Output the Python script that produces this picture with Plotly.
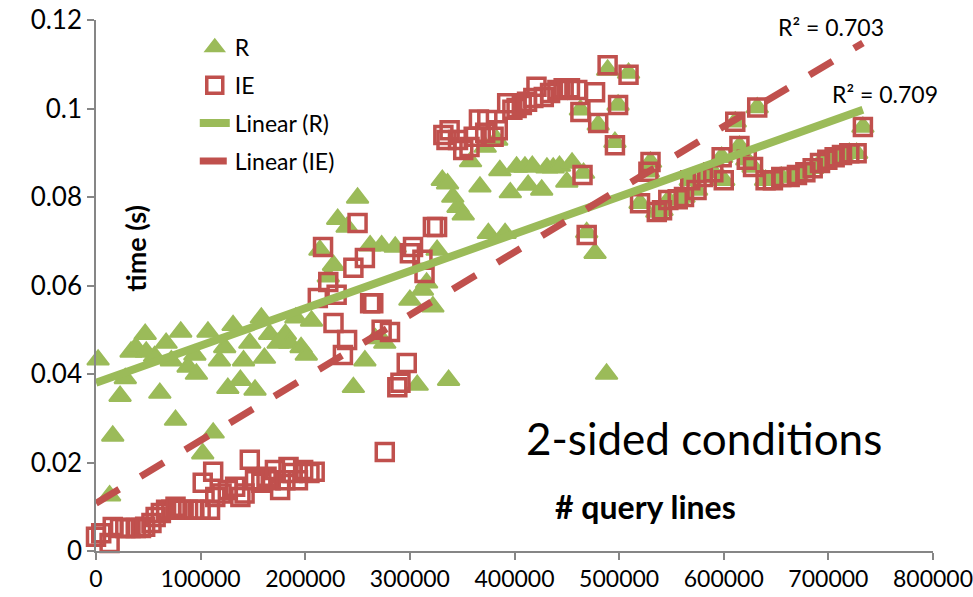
import plotly.graph_objects as go

# ---- data: query time vs. number of query lines (2-sided conditions) ----
r_lines = [
    2000, 13000, 16000, 23000, 28000, 33500, 38000, 47000, 48000, 56000,
    61000, 67000, 72000, 76000, 81000, 88000, 94500, 96000, 102000, 107000,
    112000, 118000, 123000, 126000, 131000, 138000, 141000, 147000, 152000, 158000,
    161000, 166000, 174000, 181000, 185000, 191000, 196000, 201000, 206000,
    214000, 222000, 227000, 231000, 240000, 246000, 250000, 257000, 262000, 267000,
    273000, 276000, 286000, 300000, 307000, 312000, 316000, 322000, 326000, 337000,
    331000, 336000, 341000, 346000, 351000, 358000, 367000, 372000, 375000, 383000,
    386000, 391000, 396000, 402000, 410000, 413000, 417000, 426000, 431000, 437000,
    443000, 450000, 455000, 463000, 466000, 469000, 477000, 480000, 488000, 489000,
    496000, 499000, 509000,
    520000, 528000, 530000, 536000, 541000, 547000, 556000, 562000, 568000, 574000,
    580000, 590000, 598000, 600000, 611000, 615000, 622000, 628000, 632000, 640000,
    647000, 655000, 663000, 670000, 678000, 685000, 692000, 699000, 706000, 713000,
    720000, 727000, 733000,
]
r_time = [
    0.0432, 0.0125, 0.026, 0.035, 0.039, 0.045, 0.046, 0.049, 0.045, 0.044,
    0.0357, 0.047, 0.043, 0.0296, 0.0495, 0.0416, 0.0443, 0.040, 0.022, 0.0495,
    0.0267, 0.043, 0.046, 0.0368, 0.051, 0.0386, 0.043, 0.047, 0.0364, 0.0527,
    0.0436, 0.049, 0.047, 0.049, 0.047, 0.0527, 0.046, 0.0443, 0.052,
    0.068, 0.062, 0.0646, 0.075, 0.0732, 0.037, 0.0798, 0.043, 0.069, 0.048,
    0.069, 0.047, 0.0687, 0.0567, 0.0375, 0.059, 0.0606, 0.0552, 0.068, 0.0386,
    0.0838, 0.083, 0.080, 0.0777, 0.076, 0.088, 0.0823, 0.0913, 0.0718, 0.0929,
    0.086, 0.0718, 0.081, 0.0868, 0.0868, 0.0827, 0.087, 0.0816, 0.0866, 0.0866,
    0.087, 0.0834, 0.0877, 0.0997, 0.0854, 0.072, 0.0673, 0.0963, 0.040, 0.1087,
    0.0924, 0.1008, 0.108,
    0.0786, 0.0857, 0.0879, 0.0766, 0.077, 0.0793, 0.0795, 0.0800, 0.0838, 0.0816,
    0.0845, 0.0856, 0.089, 0.0838, 0.0970, 0.0915, 0.0884, 0.0868, 0.1002, 0.0838,
    0.0838, 0.0845, 0.0845, 0.085, 0.0856, 0.0865, 0.0877, 0.0884, 0.089, 0.0895,
    0.0899, 0.0899, 0.0958,
]

ie_lines = [
    0, 5000, 13000, 16000, 23000, 28000, 33000, 38000, 43000, 47000,
    53000, 57000, 62000, 67000, 72000, 76000, 81000, 88000, 94000, 100000,
    102000, 109000, 112000, 114000, 120000, 126000, 133000, 138000, 142000, 147000,
    152000, 158000, 163000, 167000, 171000, 176000, 181000, 184000, 188000, 193000,
    198000, 204000, 209000,
    212000, 217000, 222000, 227000, 230000, 236000, 240000, 246000, 250000, 257000,
    262000, 265000, 273000, 276000, 281000, 288000, 291000, 297000, 300000, 303000,
    312000, 314000, 322000, 326000,
    332000, 335000, 338000, 346000, 351000, 357000, 361000, 366000, 372000, 374000,
    380000, 384000, 393000, 398000, 402000, 407000, 412000, 418000, 421000, 428000,
    434000, 441000, 447000, 453000, 460000, 463000, 465000, 469000, 477000, 480000,
    489000, 496000, 499000, 509000,
    520000, 528000, 530000, 536000, 541000, 547000, 556000, 562000, 568000, 574000,
    580000, 590000, 598000, 600000, 611000, 615000, 622000, 628000, 632000, 640000,
    647000, 655000, 663000, 670000, 678000, 685000, 692000, 699000, 706000, 713000,
    720000, 727000, 733000,
]
ie_time = [
    0.0032, 0.004, 0.0018, 0.0054, 0.0052, 0.0052, 0.0052, 0.0052, 0.0052, 0.0055,
    0.0063, 0.0077, 0.0086, 0.0093, 0.0093, 0.010, 0.0093, 0.0093, 0.0093, 0.0093,
    0.0154, 0.0093, 0.0179, 0.0122, 0.013, 0.0138, 0.0145, 0.0122, 0.013, 0.0206,
    0.016, 0.0154, 0.0168, 0.016, 0.0183, 0.0138, 0.016, 0.019, 0.0176, 0.016,
    0.0183, 0.0176, 0.0179,
    0.0572, 0.0687, 0.0608, 0.0515, 0.0579, 0.0443, 0.0477, 0.064, 0.0741, 0.0662,
    0.056, 0.056, 0.050, 0.0224, 0.0495, 0.037, 0.038, 0.0425, 0.0673, 0.0687,
    0.0658, 0.0628, 0.0732, 0.0732,
    0.094, 0.0929, 0.0951, 0.0929, 0.0906, 0.0913, 0.0936, 0.0975, 0.0945, 0.0974,
    0.0936, 0.0951, 0.1012, 0.0997, 0.1001, 0.1008, 0.1015, 0.1024, 0.1049, 0.1026,
    0.1035, 0.1042, 0.1046, 0.1046, 0.1042, 0.0992, 0.085, 0.0714, 0.1037, 0.0967,
    0.1098, 0.0917, 0.1008, 0.1076,
    0.0786, 0.0857, 0.0879, 0.0766, 0.077, 0.0793, 0.0795, 0.0800, 0.0838, 0.0816,
    0.0845, 0.0856, 0.089, 0.0838, 0.0970, 0.0915, 0.0884, 0.0868, 0.1002, 0.0838,
    0.0838, 0.0845, 0.0845, 0.085, 0.0856, 0.0865, 0.0877, 0.0884, 0.089, 0.0895,
    0.0899, 0.0899, 0.0958,
]

# linear trendlines over the data range
trend_lines = [0, 733000]
trend_r = [0.0380, 0.0997]
trend_ie = [0.0108, 0.1148]
r2_r = "R² = 0.709"
r2_ie = "R² = 0.703"

x_ticks = [0, 100000, 200000, 300000, 400000, 500000, 600000, 700000, 800000]
y_ticks = [0, 0.02, 0.04, 0.06, 0.08, 0.1, 0.12]

GREEN = "#9BBB59"
RED = "#C0504D"
FONT = "Lato"

fig = go.Figure()

fig.add_trace(go.Scatter(
    x=r_lines, y=r_time, mode="markers", name="R",
    marker=dict(symbol="triangle-up", size=19, color=GREEN,
                line=dict(color=GREEN, width=2)),
    cliponaxis=False, legendgroup="a",
))
fig.add_trace(go.Scatter(
    x=ie_lines, y=ie_time, mode="markers", name="IE",
    marker=dict(symbol="square-open", size=17, color=RED,
                line=dict(color=RED, width=3.5)),
    cliponaxis=False, legendgroup="b",
))
fig.add_trace(go.Scatter(
    x=trend_lines, y=trend_r, mode="lines", name="Linear (R)",
    line=dict(color=GREEN, width=8), legendgroup="c",
))
fig.add_trace(go.Scatter(
    x=trend_lines, y=trend_ie, mode="lines", name="Linear (IE)",
    line=dict(color=RED, width=7, dash="27px,25px"), legendgroup="d",
))

axis_common = dict(showline=True, linecolor="#868686", linewidth=1.5,
                   ticks="outside", ticklen=7, tickcolor="#868686", tickwidth=1.5,
                   showgrid=False, zeroline=False, automargin=False,
                   ticklabeloverflow="allow")

fig.update_xaxes(range=[0, 800000], tickvals=x_ticks, tickformat="d",
                 tickfont=dict(family=FONT, size=23, color="#000000"), **axis_common)
fig.update_yaxes(range=[0, 0.12], tickvals=y_ticks, ticktext=[f"{v:g}" for v in y_ticks],
                 tickfont=dict(family=FONT, size=26, color="#000000"), **axis_common)

fig.add_annotation(x=trend_lines[1], y=trend_ie[1], text=r2_ie, showarrow=False,
                   xanchor="center", yanchor="bottom", xshift=-32, yshift=0,
                   font=dict(family=FONT, size=23, color="#000000"))
fig.add_annotation(x=trend_lines[1], y=trend_r[1], text=r2_r, showarrow=False,
                   xanchor="center", yanchor="bottom", xshift=22, yshift=0,
                   font=dict(family=FONT, size=23, color="#000000"))

fig.add_annotation(xref="paper", yref="paper", x=0.047, y=0.57, text="<b>time (s)</b>",
                   textangle=-90, showarrow=False, xanchor="center", yanchor="middle",
                   font=dict(family=FONT, size=27, color="#000000"))
fig.add_annotation(xref="paper", yref="paper", x=0.656, y=0.083, text="<b># query lines</b>",
                   showarrow=False, xanchor="center", yanchor="middle",
                   font=dict(family=FONT, size=32, color="#000000"))
fig.add_annotation(xref="paper", yref="paper", x=0.727, y=0.212, text="2-sided conditions",
                   showarrow=False, xanchor="center", yanchor="middle",
                   font=dict(family=FONT, size=44, color="#000000"))

fig.update_layout(
    width=973, height=597,
    margin=dict(l=96, r=40, t=20, b=46),
    paper_bgcolor="white", plot_bgcolor="white",
    font=dict(family=FONT, color="#000000"),
    legend=dict(x=0.118, y=0.989, xanchor="left", yanchor="top",
                bgcolor="rgba(0,0,0,0)", font=dict(family=FONT, size=23),
                tracegroupgap=5),
    showlegend=True,
)

fig.write_html("out.html")
